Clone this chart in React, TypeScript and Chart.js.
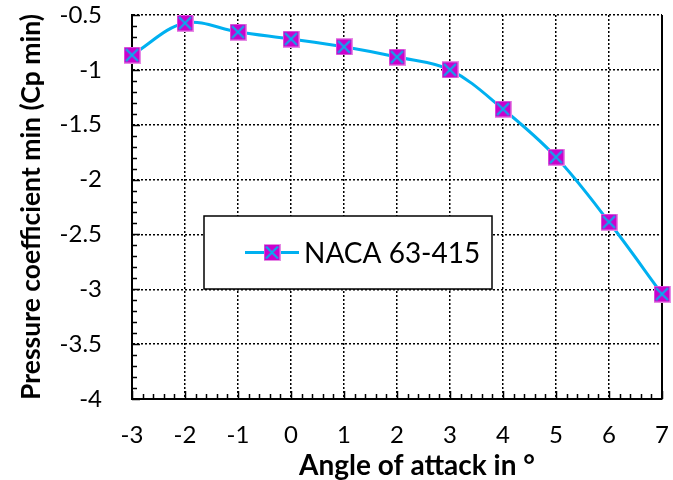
import React, { useEffect, useRef } from "react";
import { Chart, registerables } from "chart.js";

Chart.register(...registerables);

const angles = [-3, -2, -1, 0, 1, 2, 3, 4, 5, 6, 7];
const cpMin = [-0.865, -0.573, -0.655, -0.719, -0.79, -0.883, -1.0, -1.357, -1.795, -2.387, -3.043];
const xTicks = [-3, -2, -1, 0, 1, 2, 3, 4, 5, 6, 7];
const yTicks = [-4, -3.5, -3, -2.5, -2, -1.5, -1, -0.5];
const seriesName = "NACA 63-415";
const xTitle = "Angle of attack in °";
const yTitle = "Pressure coefficient min (Cp min)";

const FONT = "Lato, 'Open Sans', sans-serif";
const LINE = "#00B0F0";
const FILL = "#CC00CC";
const EDGE = "#E58BE5";

function makeMarker(): HTMLCanvasElement {
  const s = 17;
  const c = document.createElement("canvas");
  c.width = s;
  c.height = s;
  const g = c.getContext("2d")!;
  g.fillStyle = FILL;
  g.fillRect(0, 0, s, s);
  g.strokeStyle = EDGE;
  g.lineWidth = 1;
  g.strokeRect(0.5, 0.5, s - 1, s - 1);
  g.strokeStyle = LINE;
  g.lineWidth = 2;
  g.beginPath();
  g.moveTo(2.5, 2.5);
  g.lineTo(s - 2.5, s - 2.5);
  g.moveTo(s - 2.5, 2.5);
  g.lineTo(2.5, s - 2.5);
  g.stroke();
  return c;
}

function zeroPad(s: any) {
  s.paddingLeft = 0;
  s.paddingRight = 0;
  s.paddingTop = 0;
  s.paddingBottom = 0;
}

export default function App() {
  const ref = useRef<HTMLCanvasElement>(null);
  useEffect(() => {
    document.body.style.margin = "0";
    const marker = makeMarker();
    const extras = {
      id: "extras",
      beforeDatasetsDraw(chart: any) {
        const { ctx, chartArea: a, scales } = chart;
        const xs = scales.x;
        const ys = scales.y;
        ctx.save();
        ctx.strokeStyle = "#000";
        ctx.lineWidth = 1.5;
        ctx.beginPath();
        for (let i = 0; i <= 50; i++) {
          const v = xTicks[0] + i * 0.2;
          const px = Math.round(xs.getPixelForValue(v)) + 0.5;
          const len = i % 5 === 0 ? 8 : 5;
          ctx.moveTo(px, a.bottom);
          ctx.lineTo(px, a.bottom - len);
        }
        for (let i = 0; i <= 35; i++) {
          const v = yTicks[0] + i * 0.1;
          const py = Math.round(ys.getPixelForValue(v)) + 0.5;
          const len = i % 5 === 0 ? 8 : 5;
          ctx.moveTo(a.left, py);
          ctx.lineTo(a.left + len, py);
        }
        ctx.stroke();
        ctx.lineWidth = 2;
        ctx.beginPath();
        ctx.moveTo(a.right, a.top);
        ctx.lineTo(a.right, a.bottom);
        ctx.stroke();
        ctx.restore();
      },
      afterDraw(chart: any) {
        const { ctx } = chart;
        ctx.save();
        // x-axis title
        ctx.fillStyle = "#000";
        ctx.font = `bold 28px ${FONT}`;
        ctx.textAlign = "center";
        ctx.textBaseline = "alphabetic";
        ctx.fillText(xTitle, 417, 475);
        // legend
        const bx = 204, by = 216, bw = 288, bh = 73;
        ctx.fillStyle = "#fff";
        ctx.fillRect(bx, by, bw, bh);
        ctx.strokeStyle = "#000";
        ctx.lineWidth = 1.5;
        ctx.strokeRect(bx, by, bw, bh);
        const cy = by + bh / 2;
        ctx.strokeStyle = LINE;
        ctx.lineWidth = 3;
        ctx.beginPath();
        ctx.moveTo(245, cy);
        ctx.lineTo(299, cy);
        ctx.stroke();
        ctx.drawImage(marker, 272 - 8.5, cy - 8.5);
        ctx.fillStyle = "#000";
        ctx.font = `28px ${FONT}`;
        ctx.textBaseline = "middle";
        ctx.textAlign = "left";
        ctx.fillText(seriesName, 304, cy + 1);
        ctx.restore();
      },
    };
    const chart = new Chart(ref.current!, {
      type: "line",
      data: {
        datasets: [
          {
            label: seriesName,
            data: angles.map((a, i) => ({ x: a, y: cpMin[i] })),
            borderColor: LINE,
            borderWidth: 3,
            tension: 0.35,
            pointStyle: marker as any,
            pointRadius: 8,
            pointHoverRadius: 8,
            clip: false as any,
          },
        ],
      },
      options: {
        animation: false,
        responsive: false,
        events: [],
        layout: { padding: { top: 15, right: 9, left: 0, bottom: 0 } },
        plugins: { legend: { display: false }, tooltip: { enabled: false } },
        scales: {
          x: {
            type: "linear",
            min: -3,
            max: 7,
            afterBuildTicks: (s: any) => {
              s.ticks = xTicks.map((v) => ({ value: v }));
            },
            afterFit: (s: any) => {
              s.height = 81;
              zeroPad(s);
            },
            ticks: {
              color: "#000",
              font: { family: FONT, size: 24 },
              padding: 22,
              maxRotation: 0,
              callback: (v: any) => String(v),
            },
            grid: { color: "#000", lineWidth: 1.5, drawTicks: false },
            border: { display: true, color: "#000", width: 2, dash: [2, 2] },
            title: { display: false },
          },
          y: {
            type: "linear",
            min: -4,
            max: -0.5,
            afterBuildTicks: (s: any) => {
              s.ticks = yTicks.map((v) => ({ value: v }));
            },
            afterFit: (s: any) => {
              s.width = 132;
              zeroPad(s);
            },
            ticks: {
              color: "#000",
              font: { family: FONT, size: 24 },
              padding: 30,
              callback: (v: any) => String(v),
            },
            grid: { color: "#000", lineWidth: 1.5, drawTicks: false },
            border: { display: true, color: "#000", width: 2, dash: [2, 2] },
            title: {
              display: true,
              text: yTitle,
              color: "#000",
              font: { family: FONT, size: 26.5, weight: "bold" },
              padding: { top: 16, bottom: 0 },
            },
          },
        },
      },
      plugins: [extras],
    });
    return () => chart.destroy();
  }, []);
  return <canvas ref={ref} width={673} height={480} style={{ display: "block" }} />;
}
